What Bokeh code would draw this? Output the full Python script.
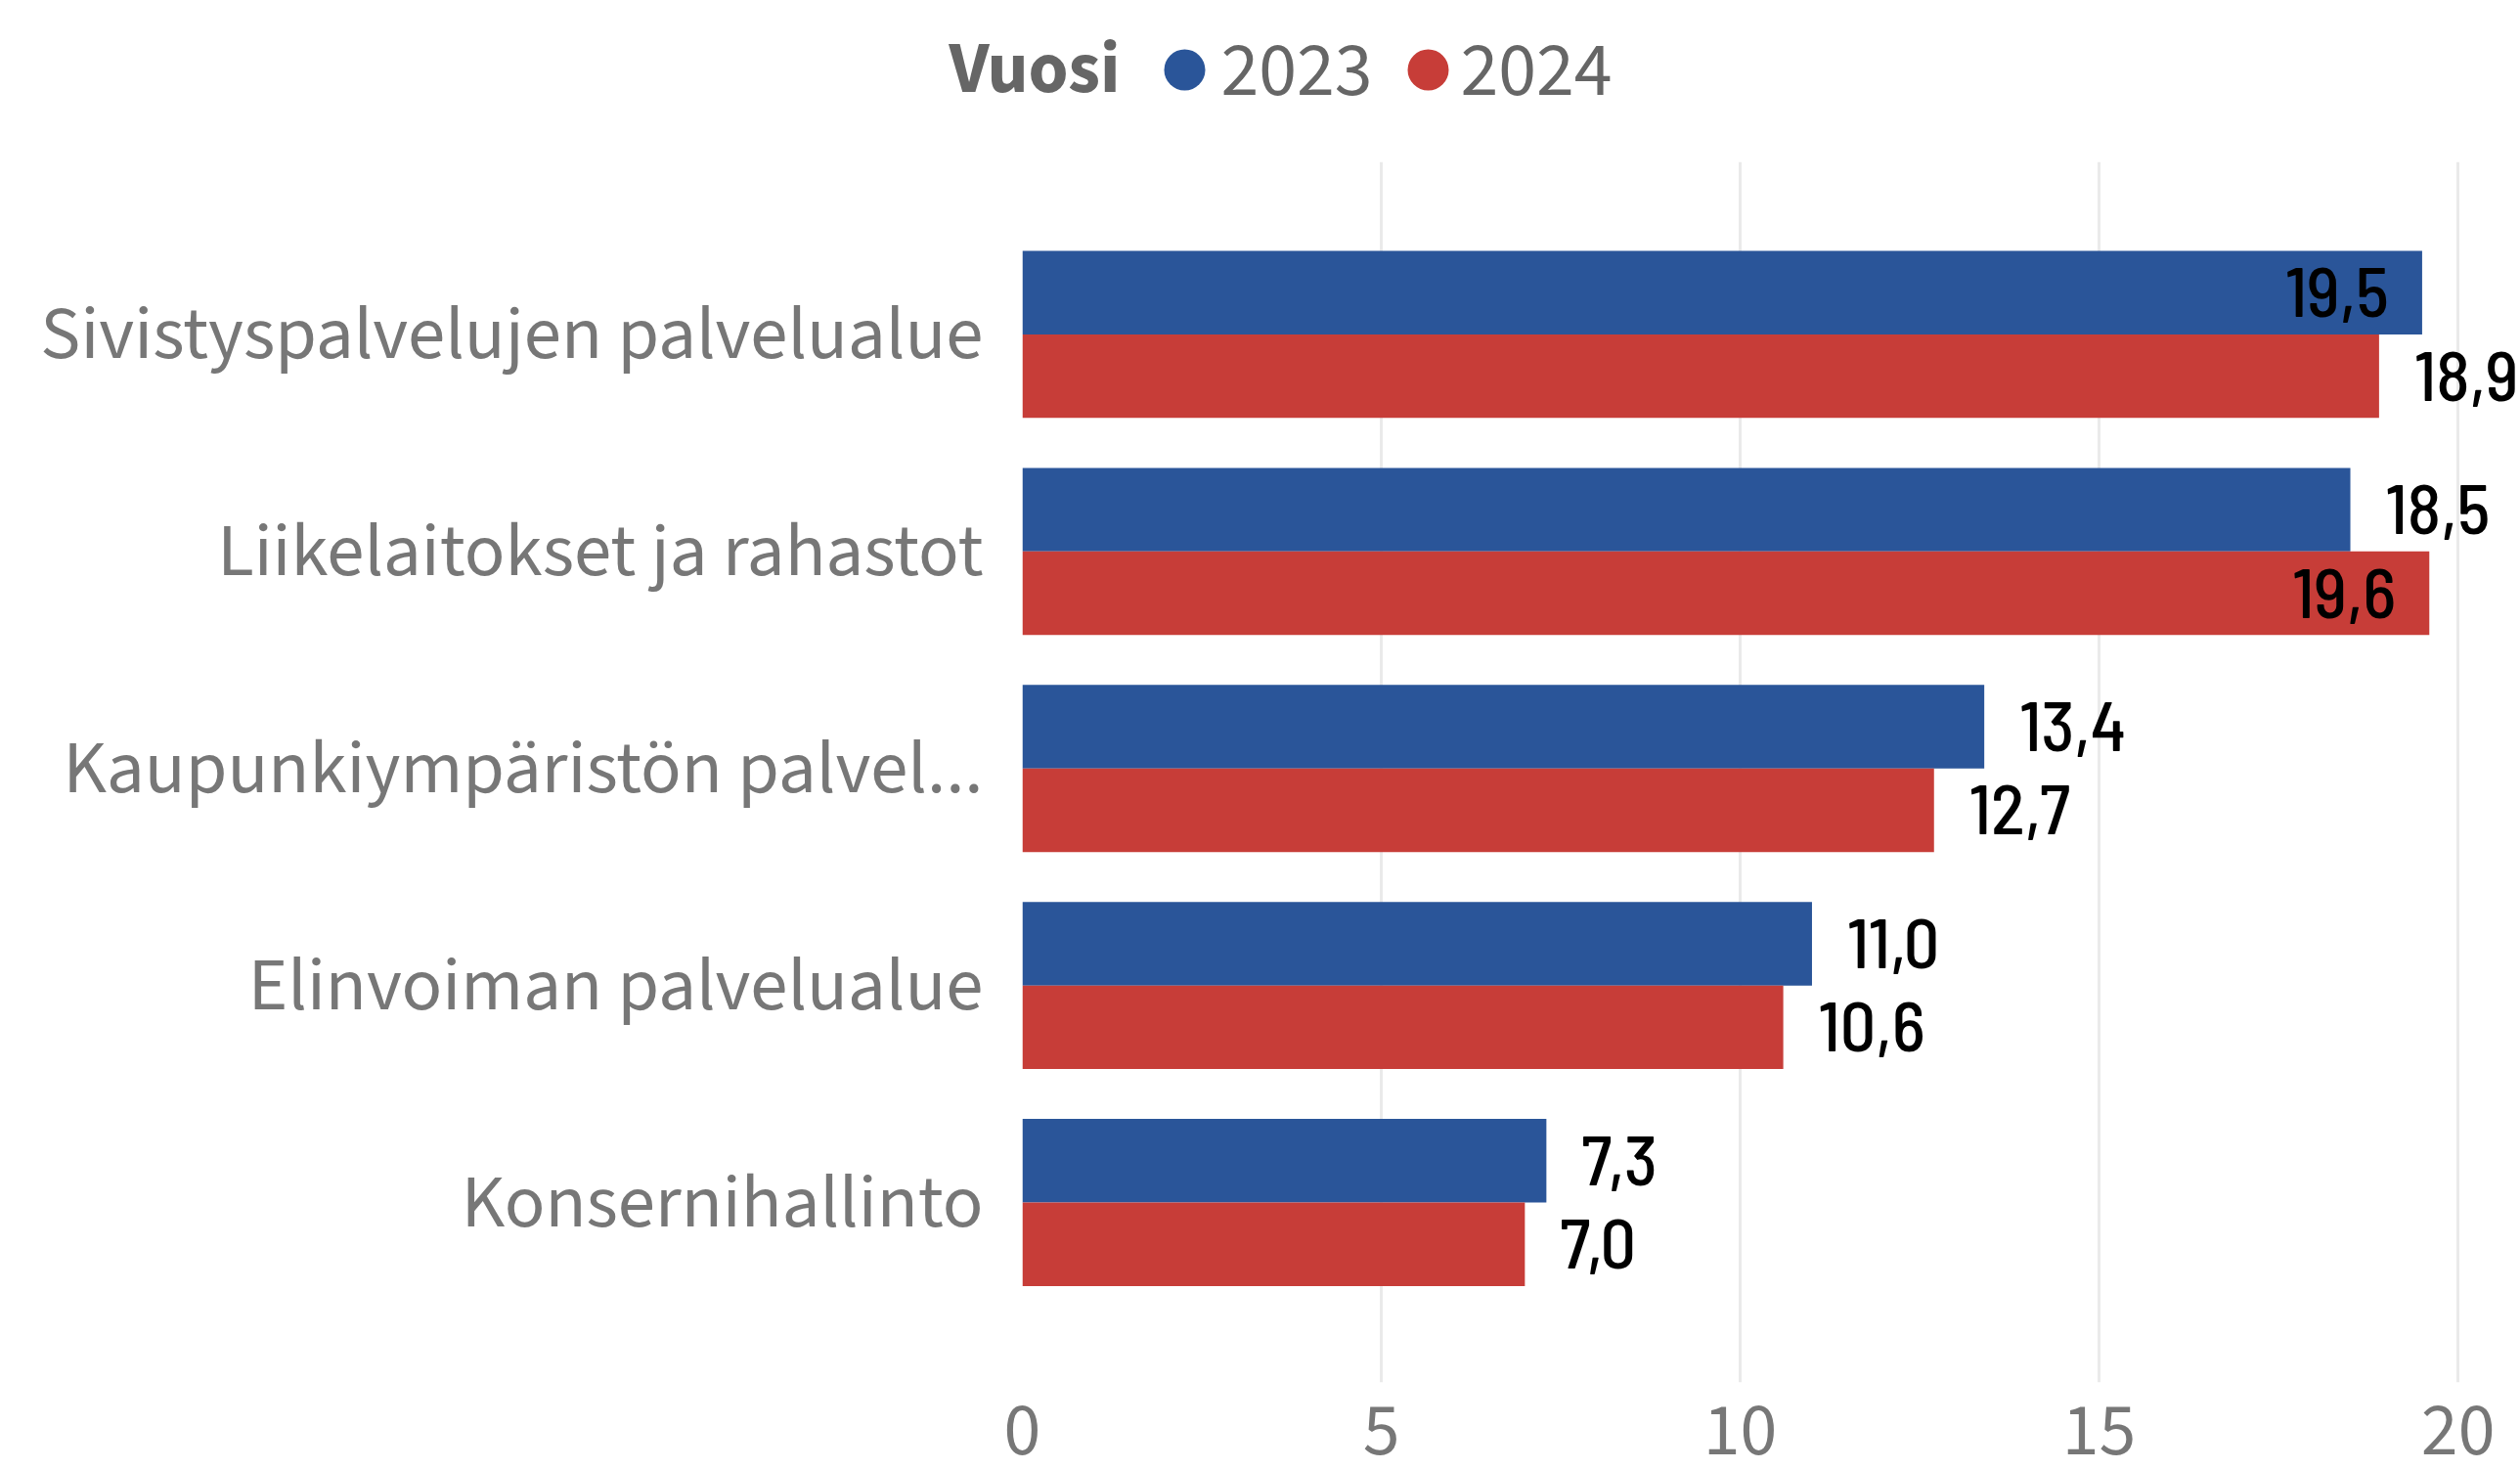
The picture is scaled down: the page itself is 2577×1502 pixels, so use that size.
from bokeh.plotting import figure
from bokeh.layouts import column
from bokeh.models import ColumnDataSource, Range1d, FixedTicker
from bokeh.core.properties import value
from bokeh.embed import file_html
from bokeh.resources import INLINE

# ---- data ----
categories = ["Sivistyspalvelujen palvelualue", "Liikelaitokset ja rahastot",
              "Kaupunkiympäristön palvel...", "Elinvoiman palvelualue", "Konsernihallinto"]
series_names = ["2023", "2024"]
values_2023 = [19.5, 18.5, 13.4, 11.0, 7.3]
values_2024 = [18.9, 19.6, 12.7, 10.6, 7.0]
x_ticks = [0, 5, 10, 15, 20]
legend_title = "Vuosi"

# ---- style ----
BLUE = "#2A5599"
RED = "#C73D38"
GRAY = "#777777"
LEG_GRAY = "#666666"
UI_FONT = "Selawik, 'Segoe UI', 'Source Sans 3', 'Open Sans', sans-serif"
LBL_FONT = "'Barlow Semi Condensed Medium', 'Barlow Semi Condensed', Roboto, sans-serif"

W = 2577
LEG_H = 130
MAIN_H = 1372

n = len(categories)
ypos = [n - 1 - i for i in range(n)]  # top to bottom
bar_h = 0.385
half = bar_h / 2

# ---- legend figure ----
leg = figure(width=W, height=LEG_H, x_range=Range1d(0, W), y_range=Range1d(LEG_H, 0),
             toolbar_location=None, output_backend="svg", min_border=0)
try:
    leg.frame_align = False
except Exception:
    pass
leg.axis.visible = False
leg.grid.visible = False
leg.outline_line_color = None
leg.text(x=[970], y=[70], text=[legend_title], text_font=value(UI_FONT),
         text_font_size="74px", text_font_style="bold", text_color=LEG_GRAY,
         text_baseline="middle", text_align="left")
leg.scatter(x=[1211, 1460], y=[71, 71], size=42, color=[BLUE, RED], line_color=None)
leg.text(x=[1248, 1493], y=[70, 70], text=series_names, text_font=value(UI_FONT),
         text_font_size="78px", text_color=LEG_GRAY,
         text_baseline="middle", text_align="left")

# ---- main figure ----
p = figure(width=W, height=MAIN_H, x_range=Range1d(0, 20.87),
           y_range=Range1d(-0.829, n - 1 + 0.795),
           toolbar_location=None, output_backend="svg",
           min_border_left=1045, min_border_right=0, min_border_top=35, min_border_bottom=89)
p.outline_line_color = None

y23 = [y + half for y in ypos]
y24 = [y - half for y in ypos]
src23 = ColumnDataSource(dict(y=y23, v=values_2023))
src24 = ColumnDataSource(dict(y=y24, v=values_2024))

p.hbar(y="y", left=0, right="v", height=bar_h, source=src23, color=BLUE, line_color=None)
p.hbar(y="y", left=0, right="v", height=bar_h, source=src24, color=RED, line_color=None)

# data labels: inside the bar end when the value is near the axis maximum
for vals, ys in ((values_2023, y23), (values_2024, y24)):
    ins_x, ins_y, ins_t, out_x, out_y, out_t = [], [], [], [], [], []
    for v, y in zip(vals, ys):
        t = f"{v:.1f}".replace(".", ",")
        if v >= 19.5:
            ins_x.append(v); ins_y.append(y); ins_t.append(t)
        else:
            out_x.append(v); out_y.append(y); out_t.append(t)
    p.text(x=ins_x, y=ins_y, text=ins_t, text_font=value(LBL_FONT), text_font_size="72px",
           text_color="black", text_align="right", text_baseline="middle", x_offset=-34)
    p.text(x=out_x, y=out_y, text=out_t, text_font=value(LBL_FONT), text_font_size="72px",
           text_color="black", text_align="left", text_baseline="middle", x_offset=36)

# axes
p.xaxis.ticker = FixedTicker(ticks=x_ticks)
p.xaxis.axis_line_color = None
p.xaxis.major_tick_line_color = None
p.xaxis.minor_tick_line_color = None
p.xaxis.major_tick_out = 0
p.xaxis.major_label_standoff = 22
p.xaxis.major_label_text_font = UI_FONT
p.xaxis.major_label_text_font_size = "76px"
p.xaxis.major_label_text_color = GRAY

p.yaxis.ticker = FixedTicker(ticks=ypos)
p.yaxis.major_label_overrides = {y: c for y, c in zip(ypos, categories)}
p.yaxis.axis_line_color = None
p.yaxis.major_tick_line_color = None
p.yaxis.minor_tick_line_color = None
p.yaxis.major_tick_out = 0
p.yaxis.major_label_standoff = 40
p.yaxis.major_label_text_font = UI_FONT
p.yaxis.major_label_text_font_size = "77px"
p.yaxis.major_label_text_color = GRAY

p.xgrid.grid_line_color = "#EAEAEA"
p.xgrid.grid_line_width = 3
p.ygrid.grid_line_color = None

layout = column(leg, p, spacing=0)
open("out.html", "w").write(file_html(layout, INLINE))
